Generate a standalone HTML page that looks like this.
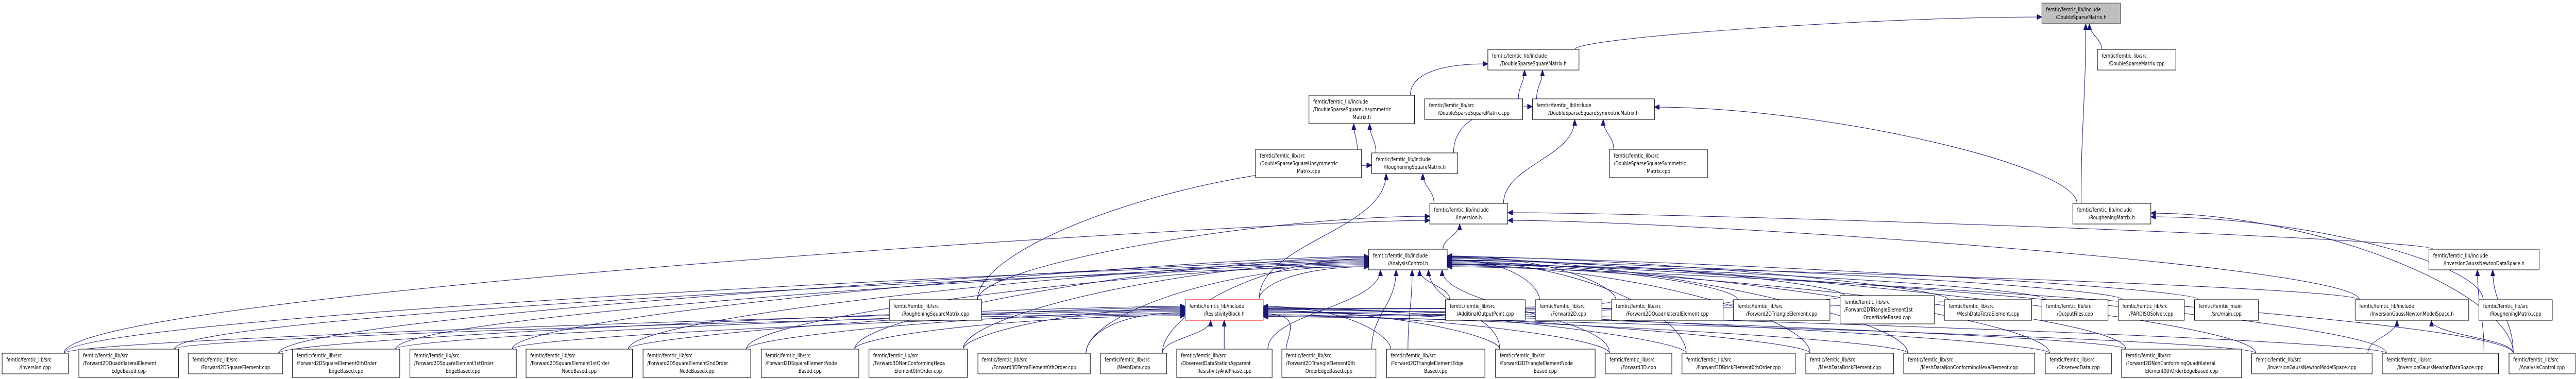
<!DOCTYPE html>
<html>
<head>
<meta charset="utf-8">
<style>
html,body{margin:0;padding:0;background:#fff;width:100%;height:100%;overflow:hidden;}
svg{display:block;position:absolute;left:0;top:0;width:100vw;height:100vh;overflow:hidden;}
text{font-family:"DejaVu Sans","Liberation Sans",sans-serif;font-size:10.5px;fill:#000;}
rect,path{vector-effect:non-scaling-stroke;}
</style>
</head>
<body>
<svg id="g" viewBox="0 0 6077 736" preserveAspectRatio="none" xmlns="http://www.w3.org/2000/svg">
<defs>
<marker id="ah" markerUnits="userSpaceOnUse" markerWidth="14" markerHeight="12" refX="12" refY="5" orient="auto">
<path d="M0,0 L12,5 L0,10 z" fill="#191970" stroke="#191970"/>
</marker>
</defs>
<g id="edges" fill="none" stroke="#191970" stroke-width="1"></g>
<g id="nodes">
<rect x="4817" y="6" width="185" height="40" fill="#bfbfbf" stroke="#404040"/>
<text x="4827" y="22">femtic/femtic_lib/include</text><text x="4909.5" y="37" text-anchor="middle">/DoubleSparseMatrix.h</text>

<rect x="3510" y="96" width="215" height="40" fill="#fff" stroke="#000"/>
<text x="3520" y="112">femtic/femtic_lib/include</text><text x="3617.5" y="127" text-anchor="middle">/DoubleSparseSquareMatrix.h</text>

<rect x="4948" y="96" width="185" height="40" fill="#fff" stroke="#000"/>
<text x="4958" y="112">femtic/femtic_lib/src</text><text x="5040.5" y="127" text-anchor="middle">/DoubleSparseMatrix.cpp</text>

<rect x="3088" y="185" width="249" height="55" fill="#fff" stroke="#000"/>
<text x="3098" y="201">femtic/femtic_lib/include</text><text x="3098" y="216">/DoubleSparseSquareUnsymmetric</text><text x="3212.5" y="231" text-anchor="middle">Matrix.h</text>

<rect x="3361" y="192" width="231" height="40" fill="#fff" stroke="#000"/>
<text x="3371" y="208">femtic/femtic_lib/src</text><text x="3476.5" y="223" text-anchor="middle">/DoubleSparseSquareMatrix.cpp</text>

<rect x="3615" y="192" width="288" height="40" fill="#fff" stroke="#000"/>
<text x="3625" y="208">femtic/femtic_lib/include</text><text x="3759" y="223" text-anchor="middle">/DoubleSparseSquareSymmetricMatrix.h</text>

<rect x="2962" y="290" width="250" height="55" fill="#fff" stroke="#000"/>
<text x="2972" y="306">femtic/femtic_lib/src</text><text x="2972" y="321">/DoubleSparseSquareUnsymmetric</text><text x="3087" y="336" text-anchor="middle">Matrix.cpp</text>

<rect x="3236" y="297" width="203" height="40" fill="#fff" stroke="#000"/>
<text x="3246" y="313">femtic/femtic_lib/include</text><text x="3337.5" y="328" text-anchor="middle">/RougheningSquareMatrix.h</text>

<rect x="3797" y="290" width="231" height="55" fill="#fff" stroke="#000"/>
<text x="3807" y="306">femtic/femtic_lib/src</text><text x="3807" y="321">/DoubleSparseSquareSymmetric</text><text x="3912.5" y="336" text-anchor="middle">Matrix.cpp</text>

<rect x="3373" y="395" width="184" height="40" fill="#fff" stroke="#000"/>
<text x="3383" y="411">femtic/femtic_lib/include</text><text x="3465" y="426" text-anchor="middle">/Inversion.h</text>

<rect x="4890" y="395" width="184" height="40" fill="#fff" stroke="#000"/>
<text x="4900" y="411">femtic/femtic_lib/include</text><text x="4982" y="426" text-anchor="middle">/RougheningMatrix.h</text>

<rect x="3229" y="484" width="185" height="40" fill="#fff" stroke="#000"/>
<text x="3239" y="500">femtic/femtic_lib/include</text><text x="3321.5" y="515" text-anchor="middle">/AnalysisControl.h</text>

<rect x="5730" y="484" width="260" height="40" fill="#fff" stroke="#000"/>
<text x="5740" y="500">femtic/femtic_lib/include</text><text x="5860" y="515" text-anchor="middle">/InversionGaussNewtonDataSpace.h</text>

<rect x="2098" y="582" width="218" height="40" fill="#fff" stroke="#000"/>
<text x="2108" y="598">femtic/femtic_lib/src</text><text x="2207" y="613" text-anchor="middle">/RougheningSquareMatrix.cpp</text>

<rect x="2796" y="582" width="184" height="40" fill="#fff" stroke="#ff0000"/>
<text x="2806" y="598">femtic/femtic_lib/include</text><text x="2888" y="613" text-anchor="middle">/ResistivityBlock.h</text>

<rect x="3410" y="582" width="188" height="40" fill="#fff" stroke="#000"/>
<text x="3420" y="598">femtic/femtic_lib/src</text><text x="3504" y="613" text-anchor="middle">/AdditinalOutputPoint.cpp</text>

<rect x="3622" y="582" width="157" height="40" fill="#fff" stroke="#000"/>
<text x="3632" y="598">femtic/femtic_lib/src</text><text x="3700.5" y="613" text-anchor="middle">/Forward2D.cpp</text>

<rect x="3802" y="582" width="263" height="40" fill="#fff" stroke="#000"/>
<text x="3812" y="598">femtic/femtic_lib/src</text><text x="3933.5" y="613" text-anchor="middle">/Forward2DQuadrilateralElement.cpp</text>

<rect x="4089" y="582" width="228" height="40" fill="#fff" stroke="#000"/>
<text x="4099" y="598">femtic/femtic_lib/src</text><text x="4203" y="613" text-anchor="middle">/Forward2DTriangleElement.cpp</text>

<rect x="4341" y="574" width="222" height="55" fill="#fff" stroke="#000"/>
<text x="4351" y="590">femtic/femtic_lib/src</text><text x="4351" y="605">/Forward2DTriangleElement1st</text><text x="4452" y="620" text-anchor="middle">OrderNodeBased.cpp</text>

<rect x="4587" y="582" width="206" height="40" fill="#fff" stroke="#000"/>
<text x="4597" y="598">femtic/femtic_lib/src</text><text x="4690" y="613" text-anchor="middle">/MeshDataTetraElement.cpp</text>

<rect x="4817" y="582" width="156" height="40" fill="#fff" stroke="#000"/>
<text x="4827" y="598">femtic/femtic_lib/src</text><text x="4895" y="613" text-anchor="middle">/OutputFiles.cpp</text>

<rect x="4997" y="582" width="156" height="40" fill="#fff" stroke="#000"/>
<text x="5007" y="598">femtic/femtic_lib/src</text><text x="5075" y="613" text-anchor="middle">/PARDISOSolver.cpp</text>

<rect x="5177" y="582" width="151" height="40" fill="#fff" stroke="#000"/>
<text x="5187" y="598">femtic/femtic_main</text><text x="5252.5" y="613" text-anchor="middle">/src/main.cpp</text>

<rect x="5556" y="582" width="268" height="40" fill="#fff" stroke="#000"/>
<text x="5566" y="598">femtic/femtic_lib/include</text><text x="5690" y="613" text-anchor="middle">/InversionGaussNewtonModelSpace.h</text>

<rect x="5848" y="582" width="173" height="40" fill="#fff" stroke="#000"/>
<text x="5858" y="598">femtic/femtic_lib/src</text><text x="5934.5" y="613" text-anchor="middle">/RougheningMatrix.cpp</text>

<rect x="5" y="686" width="156" height="40" fill="#fff" stroke="#000"/>
<text x="15" y="702">femtic/femtic_lib/src</text><text x="83" y="717" text-anchor="middle">/Inversion.cpp</text>

<rect x="186" y="678" width="235" height="55" fill="#fff" stroke="#000"/>
<text x="196" y="694">femtic/femtic_lib/src</text><text x="196" y="709">/Forward2DQuadrilateralElement</text><text x="303.5" y="724" text-anchor="middle">EdgeBased.cpp</text>

<rect x="444" y="686" width="223" height="40" fill="#fff" stroke="#000"/>
<text x="454" y="702">femtic/femtic_lib/src</text><text x="555.5" y="717" text-anchor="middle">/Forward2DSquareElement.cpp</text>

<rect x="690" y="678" width="253" height="55" fill="#fff" stroke="#000"/>
<text x="700" y="694">femtic/femtic_lib/src</text><text x="700" y="709">/Forward2DSquareElement0thOrder</text><text x="816.5" y="724" text-anchor="middle">EdgeBased.cpp</text>

<rect x="967" y="678" width="251" height="55" fill="#fff" stroke="#000"/>
<text x="977" y="694">femtic/femtic_lib/src</text><text x="977" y="709">/Forward2DSquareElement1stOrder</text><text x="1092.5" y="724" text-anchor="middle">EdgeBased.cpp</text>

<rect x="1241" y="678" width="251" height="55" fill="#fff" stroke="#000"/>
<text x="1251" y="694">femtic/femtic_lib/src</text><text x="1251" y="709">/Forward2DSquareElement1stOrder</text><text x="1366.5" y="724" text-anchor="middle">NodeBased.cpp</text>

<rect x="1517" y="678" width="254" height="55" fill="#fff" stroke="#000"/>
<text x="1527" y="694">femtic/femtic_lib/src</text><text x="1527" y="709">/Forward2DSquareElement2ndOrder</text><text x="1644" y="724" text-anchor="middle">NodeBased.cpp</text>

<rect x="1796" y="678" width="230" height="55" fill="#fff" stroke="#000"/>
<text x="1806" y="694">femtic/femtic_lib/src</text><text x="1806" y="709">/Forward2DSquareElementNode</text><text x="1911" y="724" text-anchor="middle">Based.cpp</text>

<rect x="2050" y="678" width="232" height="55" fill="#fff" stroke="#000"/>
<text x="2060" y="694">femtic/femtic_lib/src</text><text x="2060" y="709">/Forward3DNonConformingHexa</text><text x="2166" y="724" text-anchor="middle">Element0thOrder.cpp</text>

<rect x="2307" y="686" width="265" height="40" fill="#fff" stroke="#000"/>
<text x="2317" y="702">femtic/femtic_lib/src</text><text x="2439.5" y="717" text-anchor="middle">/Forward3DTetraElement0thOrder.cpp</text>

<rect x="2596" y="686" width="156" height="40" fill="#fff" stroke="#000"/>
<text x="2606" y="702">femtic/femtic_lib/src</text><text x="2674" y="717" text-anchor="middle">/MeshData.cpp</text>

<rect x="2776" y="678" width="225" height="55" fill="#fff" stroke="#000"/>
<text x="2786" y="694">femtic/femtic_lib/src</text><text x="2786" y="709">/ObservedDataStationApparent</text><text x="2888.5" y="724" text-anchor="middle">ResistivityAndPhase.cpp</text>

<rect x="3024" y="678" width="222" height="55" fill="#fff" stroke="#000"/>
<text x="3034" y="694">femtic/femtic_lib/src</text><text x="3034" y="709">/Forward2DTriangleElement0th</text><text x="3135" y="724" text-anchor="middle">OrderEdgeBased.cpp</text>

<rect x="3271" y="678" width="232" height="55" fill="#fff" stroke="#000"/>
<text x="3281" y="694">femtic/femtic_lib/src</text><text x="3281" y="709">/Forward2DTriangleElementEdge</text><text x="3387" y="724" text-anchor="middle">Based.cpp</text>

<rect x="3528" y="678" width="235" height="55" fill="#fff" stroke="#000"/>
<text x="3538" y="694">femtic/femtic_lib/src</text><text x="3538" y="709">/Forward2DTriangleElementNode</text><text x="3645.5" y="724" text-anchor="middle">Based.cpp</text>

<rect x="3787" y="686" width="157" height="40" fill="#fff" stroke="#000"/>
<text x="3797" y="702">femtic/femtic_lib/src</text><text x="3865.5" y="717" text-anchor="middle">/Forward3D.cpp</text>

<rect x="3968" y="686" width="267" height="40" fill="#fff" stroke="#000"/>
<text x="3978" y="702">femtic/femtic_lib/src</text><text x="4101.5" y="717" text-anchor="middle">/Forward3DBrickElement0thOrder.cpp</text>

<rect x="4260" y="686" width="207" height="40" fill="#fff" stroke="#000"/>
<text x="4270" y="702">femtic/femtic_lib/src</text><text x="4363.5" y="717" text-anchor="middle">/MeshDataBrickElement.cpp</text>

<rect x="4491" y="686" width="309" height="40" fill="#fff" stroke="#000"/>
<text x="4501" y="702">femtic/femtic_lib/src</text><text x="4645.5" y="717" text-anchor="middle">/MeshDataNonConformingHexaElement.cpp</text>

<rect x="4825" y="686" width="156" height="40" fill="#fff" stroke="#000"/>
<text x="4835" y="702">femtic/femtic_lib/src</text><text x="4903" y="717" text-anchor="middle">/ObservedData.cpp</text>

<rect x="5005" y="678" width="283" height="55" fill="#fff" stroke="#000"/>
<text x="5015" y="694">femtic/femtic_lib/src</text><text x="5015" y="709">/Forward2DNonConformingQuadrilateral</text><text x="5146.5" y="724" text-anchor="middle">Element0thOrderEdgeBased.cpp</text>

<rect x="5312" y="686" width="284" height="40" fill="#fff" stroke="#000"/>
<text x="5322" y="702">femtic/femtic_lib/src</text><text x="5454" y="717" text-anchor="middle">/InversionGaussNewtonModelSpace.cpp</text>

<rect x="5620" y="686" width="274" height="40" fill="#fff" stroke="#000"/>
<text x="5630" y="702">femtic/femtic_lib/src</text><text x="5757" y="717" text-anchor="middle">/InversionGaussNewtonDataSpace.cpp</text>

<rect x="5919" y="686" width="156" height="40" fill="#fff" stroke="#000"/>
<text x="5929" y="702">femtic/femtic_lib/src</text><text x="5997" y="717" text-anchor="middle">/AnalysisControl.cpp</text>
</g>
</svg>
<script>
(function(){
var N={
 N0:[4817,5002,6,46],N1:[3510,3725,96,136],N2:[4948,5133,96,136],
 N3:[3088,3337,185,240],N4:[3361,3592,192,232],N5:[3615,3903,192,232],
 N6:[2962,3212,290,345],N7:[3236,3439,297,337],N8:[3797,4028,290,345],
 N9:[3373,3557,395,435],N10:[4890,5074,395,435],N11:[3229,3414,484,524],N12:[5730,5990,484,524],
 N13:[2098,2316,582,622],N14:[2796,2980,582,622],N15:[3410,3598,582,622],N16:[3622,3779,582,622],
 N17:[3802,4065,582,622],N18:[4089,4317,582,622],N19:[4341,4563,574,629],N20:[4587,4793,582,622],
 N21:[4817,4973,582,622],N22:[4997,5153,582,622],N23:[5177,5328,582,622],N24:[5556,5824,582,622],N25:[5848,6021,582,622]
};
var B=[[5,161,686],[186,421,678],[444,667,686],[690,943,678],[967,1218,678],[1241,1492,678],[1517,1771,678],
[1796,2026,678],[2050,2282,678],[2307,2572,686],[2596,2752,686],[2776,3001,678],[3024,3246,678],[3271,3503,678],
[3528,3763,678],[3787,3944,686],[3968,4235,686],[4260,4467,686],[4491,4800,686],[4825,4981,686],[5005,5288,678],
[5312,5596,686],[5620,5894,686],[5919,6075,686]];
for(var i=0;i<B.length;i++){N['B'+i]=[B[i][0],B[i][1],B[i][2],B[i][2]==678?733:726];}
var E=[['N1','N0'],['N2','N0'],['N10','N0'],['N3','N1'],['N4','N1'],['N5','N1'],['N6','N3'],['N7','N3'],
['N7','N5'],['N9','N5'],['N8','N5'],['N10','N5'],['N9','N7'],['N13','N7'],['N14','N7'],
['N11','N9'],['N13','N9'],['N12','N9'],['N24','N9'],['N25','N10'],['B23','N10'],
['N14','N11'],['N15','N11'],['N16','N11'],['N17','N11'],['N18','N11'],['N19','N11'],['N20','N11'],['N21','N11'],['N22','N11'],['N23','N11'],['N24','N11'],
['B21','N24'],['B23','N24'],['B22','N12'],['B23','N12'],['N17','N14'],['N18','N14'],['N19','N14'],['N20','N14'],['B0','N9']];
for(var j=0;j<24;j++){E.push(['B'+j,'N11']);if(j!=23)E.push(['B'+j,'N14']);}
var g=document.getElementById('edges'),s='',k=0;
E.forEach(function(e){
 k++;
 var c=N[e[0]],p=N[e[1]];
 var ccx=(c[0]+c[1])/2,pcx=(p[0]+p[1])/2,pw=p[1]-p[0];
 var cx=Math.max(c[0]+10,Math.min(c[1]-10,pcx)),cy=c[2];
 var px,py,c2x,c2y,h=cy-p[3];
 var d=ccx-pcx;
 var off=6+(k*7)%22;
 if(Math.abs(d)<pw*1.2||h>150&&Math.abs(d)<pw*3){
  px=Math.max(p[0]+12,Math.min(p[1]-12,pcx+d*0.15));py=p[3];c2x=px;c2y=py+h*0.45;
 } else if(d<0){px=p[0];py=p[3]-off;c2x=Math.max(0,px-Math.min(-d*0.4,400));c2y=py;}
 else {px=p[1];py=p[3]-off;c2x=Math.min(6077,px+Math.min(d*0.4,400));c2y=py;}
 s+='<path d="M'+cx+','+cy+' C'+cx+','+(cy-h*0.45)+' '+c2x+','+c2y+' '+px+','+py+'" marker-end="url(#ah)"/>';
});
g.innerHTML=s;
})();
</script>
</body>
</html>
